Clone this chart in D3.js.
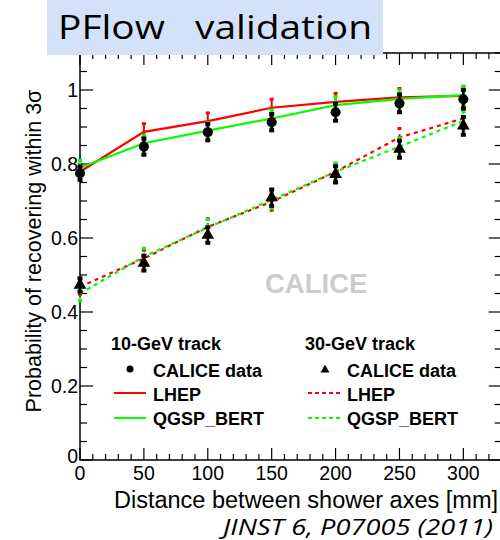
<!DOCTYPE html>
<html>
  <head>
    <meta charset="utf-8">
    <script src="https://cdn.jsdelivr.net/npm/d3@7/dist/d3.min.js" charset="utf-8"></script>
    <style>
      body { margin: 0; background: #fff; }
      text { font-family: "Liberation Sans", Arial, sans-serif; }
    </style>
  </head>
  <body>
    <script type="text/javascript">
      var w = 500;
      var h = 540;

      // Dados
      var distances = [0, 50, 100, 150, 200, 250, 300];
      var data10 = [0.775, 0.847, 0.886, 0.913, 0.940, 0.964, 0.975];
      var errData10 = [0.018, 0.022, 0.022, 0.022, 0.023, 0.024, 0.025];
      var lhep10 = [0.779, 0.887, 0.916, 0.952, 0.968, 0.980, 0.984];
      var qgsp10 = [0.790, 0.856, 0.890, 0.923, 0.959, 0.976, 0.986];
      var data30 = [0.473, 0.532, 0.608, 0.709, 0.772, 0.840, 0.903];
      var errData30 = [0.018, 0.020, 0.021, 0.022, 0.022, 0.023, 0.024];
      var lhep30 = [0.468, 0.545, 0.630, 0.698, 0.779, 0.872, 0.923];
      var qgsp30 = [0.450, 0.550, 0.628, 0.703, 0.779, 0.847, 0.916];
      var errMC = [0.020, 0.022, 0.022, 0.023, 0.023, 0.024, 0.025];
      var xTicks = [0, 50, 100, 150, 200, 250, 300];
      var yTicks = [0, 0.2, 0.4, 0.6, 0.8, 1];

      var svg = d3.select("body")
                  .append("svg")
                    .attr("width", w)
                    .attr("height", h);

      var x = d3.scaleLinear().domain([0, 330]).range([80, 501.7]);
      var y = d3.scaleLinear().domain([0, 1.1]).range([460, 53]);

      // Moldura
      svg.append("rect")
         .attr("x", x(0)).attr("y", y(1.1))
         .attr("width", x(330) - x(0)).attr("height", y(0) - y(1.1))
         .attr("fill", "none").attr("stroke", "#000").attr("stroke-width", 1.5);

      // Ticks (para dentro, como no ROOT)
      var xMinor = d3.range(0, 331, 10);
      var yMinor = d3.range(0, 1.1001, 0.05);
      function isMajorX(d) { return d % 50 === 0; }
      function isMajorY(d) { return Math.abs(d * 5 - Math.round(d * 5)) < 1e-6; }

      var ticks = svg.append("g").attr("stroke", "#000").attr("stroke-width", 1.2);
      xMinor.forEach(function(d) {
        var len = isMajorX(d) ? 12 : 6;
        ticks.append("line").attr("x1", x(d)).attr("x2", x(d)).attr("y1", y(0)).attr("y2", y(0) - len);
        ticks.append("line").attr("x1", x(d)).attr("x2", x(d)).attr("y1", y(1.1)).attr("y2", y(1.1) + len);
      });
      yMinor.forEach(function(d) {
        var len = isMajorY(d) ? 13 : 7;
        ticks.append("line").attr("x1", x(0)).attr("x2", x(0) + len).attr("y1", y(d)).attr("y2", y(d));
        ticks.append("line").attr("x1", x(330)).attr("x2", x(330) - len).attr("y1", y(d)).attr("y2", y(d));
      });

      // Rotulos dos eixos
      svg.selectAll("text.xt")
         .data(xTicks)
         .enter()
         .append("text")
            .attr("class", "xt")
            .attr("x", function(d) { return x(d); })
            .attr("y", 480)
            .attr("text-anchor", "middle")
            .attr("font-size", 19.5)
            .text(function(d) { return d; });

      svg.selectAll("text.yt")
         .data(yTicks)
         .enter()
         .append("text")
            .attr("class", "yt")
            .attr("x", 78)
            .attr("y", function(d) { return d === 0 ? y(d) + 3 : y(d) + 7; })
            .attr("text-anchor", "end")
            .attr("font-size", 19.5)
            .text(function(d) { return d; });

      svg.append("text")
         .attr("x", 498).attr("y", 508)
         .attr("text-anchor", "end")
         .attr("font-size", 23.5)
         .text("Distance between shower axes [mm]");

      svg.append("text")
         .attr("transform", "translate(41,251) rotate(-90)")
         .attr("text-anchor", "middle")
         .attr("font-size", 21.5)
         .text("Probability of recovering within 3\u03c3");

      // Marca d'agua
      svg.append("text")
         .attr("x", 265).attr("y", 293)
         .attr("font-size", 27.5)
         .attr("font-weight", "bold")
         .attr("fill", "#cccccc")
         .text("CALICE");

      // Curvas de simulacao
      var line = d3.line()
                   .x(function(d, i) { return x(distances[i]); })
                   .y(function(d) { return y(d); });

      var mc = [
        { vals: lhep10, color: "#ff0000", dash: null },
        { vals: qgsp10, color: "#00ff00", dash: null },
        { vals: lhep30, color: "#ff0000", dash: "4,4" },
        { vals: qgsp30, color: "#00ff00", dash: "4,4" }
      ];

      mc.forEach(function(s) {
        var g = svg.append("g");
        g.selectAll("line")
         .data(s.vals)
         .enter()
         .append("line")
            .attr("x1", function(d, i) { return x(distances[i]); })
            .attr("x2", function(d, i) { return x(distances[i]); })
            .attr("y1", function(d, i) { return y(d - errMC[i]); })
            .attr("y2", function(d, i) { return y(d + errMC[i]); })
            .attr("stroke", s.color)
            .attr("stroke-width", 2)
            .attr("stroke-dasharray", s.dash);
        g.selectAll("rect")
         .data(s.vals.concat(s.vals))
         .enter()
         .append("rect")
            .attr("x", function(d, i) { return x(distances[i % 7]) - 2; })
            .attr("y", function(d, i) { return y(i < 7 ? d + errMC[i % 7] : d - errMC[i % 7]) - 1.5; })
            .attr("width", 4).attr("height", 3)
            .attr("fill", s.color);
        g.append("path")
         .datum(s.vals)
         .attr("d", line)
         .attr("fill", "none")
         .attr("stroke", s.color)
         .attr("stroke-width", 2.2)
         .attr("stroke-dasharray", s.dash);
      });

      // Dados CALICE
      var dataSets = [
        { vals: data10, err: errData10, sym: d3.symbolCircle, size: 80 },
        { vals: data30, err: errData30, sym: d3.symbolTriangle, size: 70 }
      ];

      dataSets.forEach(function(s) {
        var g = svg.append("g");
        g.selectAll("line")
         .data(s.vals)
         .enter()
         .append("line")
            .attr("x1", function(d, i) { return x(distances[i]); })
            .attr("x2", function(d, i) { return x(distances[i]); })
            .attr("y1", function(d, i) { return y(d - s.err[i]); })
            .attr("y2", function(d, i) { return y(d + s.err[i]); })
            .attr("stroke", "#000")
            .attr("stroke-width", 2.5);
        g.selectAll("rect")
         .data(s.vals.concat(s.vals))
         .enter()
         .append("rect")
            .attr("x", function(d, i) { return x(distances[i % 7]) - 2.5; })
            .attr("y", function(d, i) { return y(i < 7 ? d + s.err[i % 7] : d - s.err[i % 7]) - 2; })
            .attr("width", 5).attr("height", 4)
            .attr("fill", "#000");
        g.selectAll("path")
         .data(s.vals)
         .enter()
         .append("path")
            .attr("d", d3.symbol().type(s.sym).size(s.size))
            .attr("transform", function(d, i) {
              return "translate(" + x(distances[i]) + "," + y(d) + ")";
            })
            .attr("fill", "#000");
      });

      // Legenda
      var legend = svg.append("g").attr("font-size", 18).attr("font-weight", "bold");
      legend.append("text").attr("x", 111).attr("y", 350).text("10-GeV track");
      legend.append("text").attr("x", 153).attr("y", 377).text("CALICE data");
      legend.append("text").attr("x", 153).attr("y", 401).text("LHEP");
      legend.append("text").attr("x", 153).attr("y", 425).text("QGSP_BERT");
      legend.append("circle").attr("cx", 130).attr("cy", 369).attr("r", 3.5).attr("fill", "#000");
      legend.append("line").attr("x1", 114).attr("x2", 146).attr("y1", 393).attr("y2", 393)
            .attr("stroke", "#ff0000").attr("stroke-width", 2);
      legend.append("line").attr("x1", 114).attr("x2", 146).attr("y1", 418).attr("y2", 418)
            .attr("stroke", "#00ff00").attr("stroke-width", 2);

      legend.append("text").attr("x", 305).attr("y", 350).text("30-GeV track");
      legend.append("text").attr("x", 347).attr("y", 377).text("CALICE data");
      legend.append("text").attr("x", 347).attr("y", 401).text("LHEP");
      legend.append("text").attr("x", 347).attr("y", 425).text("QGSP_BERT");
      legend.append("path").attr("d", d3.symbol().type(d3.symbolTriangle).size(35))
            .attr("transform", "translate(325,370)").attr("fill", "#000");
      legend.append("line").attr("x1", 308).attr("x2", 340).attr("y1", 393).attr("y2", 393)
            .attr("stroke", "#ff0000").attr("stroke-width", 2).attr("stroke-dasharray", "4,3");
      legend.append("line").attr("x1", 308).attr("x2", 340).attr("y1", 418).attr("y2", 418)
            .attr("stroke", "#00ff00").attr("stroke-width", 2).attr("stroke-dasharray", "4,3");

      // Titulo
      svg.append("rect")
         .attr("x", 47).attr("y", 0).attr("width", 336).attr("height", 55)
         .attr("fill", "#d3e2f9");
      svg.append("text")
         .attr("x", 58).attr("y", 39)
         .attr("font-size", 33)
         .attr("textLength", 314)
         .attr("lengthAdjust", "spacingAndGlyphs")
         .style("font-family", "'Open Sans', 'Noto Sans', sans-serif")
         .text("PFlow\u00a0\u00a0\u00a0validation");

      // Referencia
      svg.append("text")
         .attr("x", 223).attr("y", 535)
         .attr("font-size", 22)
         .attr("font-style", "italic")
         .attr("textLength", 270)
         .attr("lengthAdjust", "spacingAndGlyphs")
         .style("font-family", "'Open Sans', 'Noto Sans', sans-serif")
         .text("JINST 6, P07005 (2011)");
    </script>
  </body>
</html>
